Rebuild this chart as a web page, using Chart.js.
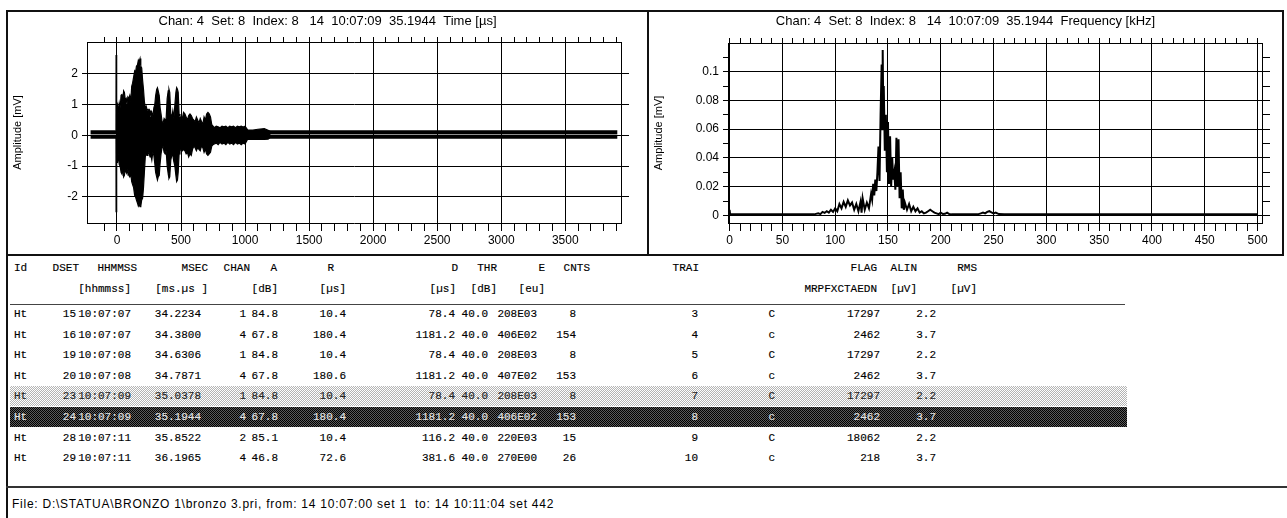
<!DOCTYPE html>
<html><head><meta charset="utf-8">
<script src="https://cdn.jsdelivr.net/npm/chart.js@4.4.1/dist/chart.umd.min.js"></script>
<style>
html,body{margin:0;padding:0;background:#fff;}
body{width:1287px;height:518px;position:relative;overflow:hidden;font-family:"Liberation Sans",Arial,sans-serif;}
canvas{position:absolute;display:block;}
.ln{position:absolute;background:#111;z-index:5;}
.cell{position:absolute;font-family:"Liberation Mono","DejaVu Sans Mono",monospace;font-size:11px;line-height:14px;white-space:pre;color:#000;z-index:3;-webkit-text-stroke:0.15px #000;}
.band{position:absolute;left:10px;width:1117px;height:20px;z-index:2;}
.hl1{background:repeating-conic-gradient(#b4b4b4 0 25%,#fff 0 50%) 0 0/2px 2px;}
.hl2{background:repeating-conic-gradient(#000 0 25%,#5a5a5a 0 50%) 0 0/2px 2px;}
#status{position:absolute;left:12px;top:497px;font-size:12px;line-height:15px;letter-spacing:0.75px;white-space:pre;color:#000;}
</style></head><body>
<canvas id="c1" width="641" height="243" style="left:7px;top:12px"></canvas>
<canvas id="c2" width="635" height="243" style="left:648px;top:12px"></canvas>
<div class="ln" style="left:6px;top:10px;width:1278px;height:2px"></div>
<div class="ln" style="left:6px;top:10px;width:2px;height:508px"></div>
<div class="ln" style="left:647px;top:10px;width:2px;height:246px"></div>
<div class="ln" style="left:1282px;top:10px;width:2px;height:246px"></div>
<div class="ln" style="left:6px;top:254px;width:1278px;height:2px"></div>
<div class="ln" style="left:6px;top:486px;width:1281px;height:2px;background:#333"></div>
<div class="ln" style="left:10px;top:304px;width:1115px;height:1px;background:#444"></div>
<div id="status"></div>
<script>
// ---------- Waveform (time domain) ----------
const waveT = [-8,-7,-4,-3,0,5,10,18,25,32,38,45,52,58,65,72,78,85,92,100,108,115,122,130,138,145,152,160,167,173,180,186,193,200,207,214,221,228,235,242,250,258,265,272,280,288,295,302,310,316,322,330,337,344,352,360,368,376,384,392,400,406,412,420,428,436,444,452,460,466,472,478,485,492,500,510,520,530,540,550,560,570,580,590,600,610,620,630,640,650,660,670,680,690,700,710,720,730,740,750,760,775,790,805,820,835,850,865,880,895,910,925,940,955,970,985,1000,1020,1060,1100,1150,1180,1200];
const waveUpper = [0.15,2.62,2.62,0.15,0.9,1.0,0.7,1.05,0.9,1.3,1.35,1.1,1.45,1.4,1.15,1.2,1.0,1.25,1.2,1.3,1.1,1.6,1.7,1.9,2.1,2.05,2.25,2.3,2.45,2.4,2.5,2.25,2.2,1.8,1.5,1.1,0.9,0.95,0.85,0.8,0.85,0.8,0.6,0.75,0.6,0.9,1.0,1.3,1.5,1.55,1.45,1.3,0.9,0.7,0.45,0.4,0.55,0.5,0.55,1.2,1.45,1.5,1.4,0.7,0.6,0.8,0.55,1.0,1.4,1.55,1.5,1.4,0.7,0.6,0.6,0.55,0.75,0.7,0.6,0.5,0.65,0.7,0.65,0.55,0.5,0.45,0.6,0.5,0.4,0.55,0.45,0.35,0.6,0.5,0.7,0.75,0.7,0.6,0.35,0.3,0.25,0.3,0.28,0.25,0.3,0.28,0.3,0.25,0.3,0.28,0.3,0.25,0.3,0.28,0.3,0.27,0.3,0.18,0.17,0.2,0.22,0.17,0.12];
const waveLower = [-0.05,-2.48,-2.48,-0.05,-0.8,-0.85,-0.6,-0.95,-1.0,-1.2,-1.25,-1.1,-1.35,-1.3,-1.1,-1.2,-1.25,-1.1,-1.3,-1.35,-1.25,-1.5,-1.6,-1.7,-1.95,-2.0,-2.1,-2.2,-2.3,-2.25,-2.32,-2.3,-2.1,-2.05,-1.7,-1.2,-0.7,-0.6,-0.65,-0.6,-0.55,-0.7,-0.65,-0.8,-0.55,-0.65,-0.9,-1.2,-1.35,-1.45,-1.35,-1.3,-0.9,-0.6,-0.4,-0.35,-0.55,-0.6,-0.5,-1.0,-1.25,-1.4,-1.35,-0.8,-0.65,-0.65,-0.85,-1.0,-1.3,-1.5,-1.45,-1.2,-0.6,-0.5,-0.45,-0.5,-0.45,-0.5,-0.6,-0.55,-0.7,-0.6,-0.65,-0.45,-0.35,-0.4,-0.5,-0.4,-0.45,-0.5,-0.35,-0.4,-0.55,-0.45,-0.6,-0.65,-0.6,-0.55,-0.35,-0.3,-0.28,-0.25,-0.3,-0.22,-0.28,-0.25,-0.3,-0.22,-0.28,-0.25,-0.3,-0.22,-0.28,-0.25,-0.3,-0.25,-0.28,-0.12,-0.13,-0.12,-0.13,-0.12,-0.05];
const noiseT = [-206, 3906];
const noiseHigh = [0.1, 0.1];
const noiseLow = [-0.04, -0.04];

// ---------- Spectrum (frequency domain) ----------
const freqKHz = [0,0.5,1,80,84,86,88,90,92,94,96,98,100,102,104,106,108,110,112,114,116,118,120,122,124,125,126,128,130,132,134,135,136,137,138,139,140,141,142,143,144,144.5,145,145.5,146,147,148,149,150,151,152,153,154,155,156,157,158,159,160,161,162,163,164,165,166,168,170,172,174,176,178,180,182,184,186,188,190,192,194,196,198,200,202,204,206,208,210,235,238,240,242,244,246,248,250,252,255,260,500];
const specAmp = [0.004,0.0008,0.0008,0.0008,0.0015,0.001,0.0025,0.0018,0.003,0.002,0.004,0.0025,0.005,0.003,0.008,0.005,0.0095,0.006,0.0105,0.007,0.009,0.004,0.008,0.003,0.0095,0.002,0.012,0.004,0.009,0.005,0.015,0.011,0.022,0.014,0.025,0.017,0.03,0.048,0.024,0.07,0.105,0.06,0.115,0.075,0.09,0.045,0.07,0.03,0.065,0.022,0.055,0.02,0.04,0.025,0.03,0.018,0.054,0.02,0.053,0.012,0.03,0.005,0.018,0.004,0.009,0.004,0.008,0.003,0.006,0.003,0.005,0.002,0.003,0.0015,0.002,0.003,0.004,0.003,0.002,0.0015,0.001,0.002,0.001,0.0012,0.002,0.001,0.0008,0.0008,0.0015,0.002,0.0015,0.0025,0.003,0.0022,0.0015,0.002,0.001,0.0008,0.0008];

// ---------- Hit table ----------
const headerLabels = ['Id','DSET','HHMMSS','MSEC','CHAN','A','R','D','THR','E','CNTS','TRAI','FLAG','ALIN','RMS'];
const unitLabels = ['','','[hhmmss]','[ms.\u00b5s ]','','[dB]','[\u00b5s]','[\u00b5s]','[dB]','[eu]','','','MRPFXCTAEDN','[\u00b5V]','[\u00b5V]'];
const hitId = ['Ht','Ht','Ht','Ht','Ht','Ht','Ht','Ht'];
const dset = ['15','16','19','20','23','24','28','29'];
const hhmmss = ['10:07:07','10:07:07','10:07:08','10:07:08','10:07:09','10:07:09','10:07:11','10:07:11'];
const msec = ['34.2234','34.3800','34.6306','34.7871','35.0378','35.1944','35.8522','36.1965'];
const chan = ['1','4','1','4','1','4','2','4'];
const ampA = ['84.8','67.8','84.8','67.8','84.8','67.8','85.1','46.8'];
const riseR = ['10.4','180.4','10.4','180.6','10.4','180.4','10.4','72.6'];
const durD = ['78.4','1181.2','78.4','1181.2','78.4','1181.2','116.2','381.6'];
const thr = ['40.0','40.0','40.0','40.0','40.0','40.0','40.0','40.0'];
const energyE = ['208E03','406E02','208E03','407E02','208E03','406E02','220E03','270E00'];
const counts = ['8','154','8','153','8','153','15','26'];
const trai = ['3','4','5','6','7','8','9','10'];
const flag = ['C','c','C','c','C','c','C','c'];
const alin = ['17297','2462','17297','2462','17297','2462','18062','218'];
const rms = ['2.2','3.7','2.2','3.7','2.2','3.7','2.2','3.7'];
const statusText = 'File: D:\\STATUA\\BRONZO 1\\bronzo 3.pri, from: 14 10:07:00 set 1  to: 14 10:11:04 set 442';
const title1 = 'Chan: 4  Set: 8  Index: 8   14  10:07:09  35.1944  Time [\u00b5s]';
const title2 = 'Chan: 4  Set: 8  Index: 8   14  10:07:09  35.1944  Frequency [kHz]';

// ---------- layout (positions only) ----------
const hdrX  = [14,79,137,208,250,277,334,458,497,545,590,699,877,917,977];
const unitX = [0,0,131,208,0,278,346,456,497,545,0,0,877,917,977];
const dataX = [14,76,131,201,246,278,346,455,488,537,576,698,775,880,936];
const hdrY = 268, unitY = 289, rowY0 = 314, rowPitch = 20.6;

function cell(text, x, y, left, color) {
  const s = document.createElement('span');
  s.className = 'cell';
  s.textContent = text;
  s.style.top = (y - 7) + 'px';
  if (left) s.style.left = x + 'px'; else s.style.right = (1287 - x) + 'px';
  if (color) { s.style.color = color; s.style.webkitTextStroke = '0.15px ' + color; }
  document.body.appendChild(s);
}
headerLabels.forEach((t,i)=>cell(t, hdrX[i], hdrY, i===0));
unitLabels.forEach((t,i)=>{ if (t) cell(t, unitX[i], unitY, false); });
for (let r = 0; r < hitId.length; r++) {
  const y = rowY0 + r*rowPitch;
  let color = null;
  if (r === 4 || r === 5) {
    const b = document.createElement('div');
    b.className = 'band ' + (r === 4 ? 'hl1' : 'hl2');
    b.style.top = Math.round(y - 10) + 'px';
    document.body.appendChild(b);
    color = (r === 5) ? '#e4e4e4' : '#222';
  }
  const vals = [hitId[r],dset[r],hhmmss[r],msec[r],chan[r],ampA[r],riseR[r],durD[r],thr[r],energyE[r],counts[r],trai[r],flag[r],alin[r],rms[r]];
  vals.forEach((t,i)=>cell(t, dataX[i], y, i===0, color));
}
document.getElementById('status').textContent = statusText;

// ---------- charts ----------
const F = {family:'"Liberation Sans", Arial, sans-serif', size:12};
const FY = {family:'"Liberation Sans", Arial, sans-serif', size:11};
const FT = {family:'"Liberation Sans", Arial, sans-serif', size:13, weight:'normal'};
const BLACK = '#000', NONE = 'rgba(0,0,0,0)';
const pts = (xs, ys) => xs.map((x,i)=>({x, y:ys[i]}));
const lineDs = (d, w, extra) => Object.assign({data:d, borderColor:BLACK, borderWidth:w, pointRadius:0, tension:0, fill:false}, extra||{});

new Chart(document.getElementById('c1'), {
  type:'line',
  data:{datasets:[
    lineDs(pts(noiseT, noiseHigh), 4),
    lineDs(pts(noiseT, noiseLow), 4),
    lineDs(pts(waveT, waveUpper), 1.2),
    lineDs(pts(waveT, waveLower), 1.2, {fill:'-1', backgroundColor:BLACK})
  ]},
  options:{
    responsive:false, animation:false, layout:{padding:0},
    plugins:{legend:{display:false}, tooltip:{enabled:false},
      title:{display:true, text:title1, color:BLACK, font:FT, padding:{top:2,bottom:3}}},
    scales:{
      x:{type:'linear', position:'bottom', min:-234, max:3935,
        ticks:{stepSize:100, autoSkip:false, maxRotation:0, includeBounds:false, color:BLACK, font:F, padding:2,
          callback:v => (v % 500 === 0 ? String(v) : '')},
        grid:{color:c => (c.tick && c.tick.value % 500 === 0 ? BLACK : NONE), tickColor:c => (c.tick && c.tick.value > -150 ? BLACK : NONE), tickLength:8, lineWidth:1},
        border:{color:BLACK, width:1},
        afterFit:s => { s.height = 32; }},
      x2:{type:'linear', position:'top', min:-234, max:3935,
        ticks:{display:false, stepSize:100, autoSkip:false, includeBounds:false},
        grid:{drawOnChartArea:false, tickLength:5, color:c => (c.tick && c.tick.value > -150 ? BLACK : NONE)},
        border:{color:BLACK, width:1},
        afterFit:s => { s.height = 9.4; }},
      y:{type:'linear', position:'left', min:-2.85, max:3.04,
        ticks:{stepSize:1, autoSkip:false, includeBounds:false, color:BLACK, font:F, padding:4,
          callback:v => (Math.abs(v) <= 2 ? String(v) : '')},
        grid:{color:c => (c.tick && Math.abs(c.tick.value) <= 2 ? BLACK : NONE), tickLength:5},
        border:{color:BLACK, width:1},
        title:{display:true, text:'Amplitude [mV]', color:BLACK, font:FY, padding:{top:4,bottom:0}},
        afterFit:s => { s.width = 80; }},
      y2:{type:'linear', position:'right', min:-2.85, max:3.04,
        ticks:{display:false, stepSize:1, includeBounds:false},
        grid:{drawOnChartArea:false, tickLength:8, color:c => (c.tick && Math.abs(c.tick.value) <= 2 ? BLACK : NONE)},
        border:{color:BLACK, width:1},
        afterFit:s => { s.width = 27; }}
    }
  }
});

const fmtAmp = v => { const k = Math.round(v*100); if (k % 2 !== 0) return ''; return k === 0 ? '0' : String(+(k/100).toFixed(2)); };
new Chart(document.getElementById('c2'), {
  type:'line',
  data:{datasets:[ lineDs(pts(freqKHz, specAmp), 2) ]},
  options:{
    responsive:false, animation:false, layout:{padding:0},
    plugins:{legend:{display:false}, tooltip:{enabled:false},
      title:{display:true, text:title2, color:BLACK, font:FT, padding:{top:2,bottom:3}}},
    scales:{
      x:{type:'linear', position:'bottom', min:-1.5, max:504.2,
        ticks:{stepSize:10, autoSkip:false, maxRotation:0, includeBounds:false, color:BLACK, font:F, padding:2,
          callback:v => (Math.round(v) % 50 === 0 ? String(Math.round(v)) : '')},
        grid:{color:c => (c.tick && Math.round(c.tick.value) % 50 === 0 ? BLACK : NONE), tickColor:BLACK, tickLength:8, lineWidth:1},
        border:{color:BLACK, width:1},
        afterFit:s => { s.height = 32; }},
      x2:{type:'linear', position:'top', min:-1.5, max:504.2,
        ticks:{display:false, stepSize:10, autoSkip:false, includeBounds:false},
        grid:{drawOnChartArea:false, tickLength:5, color:BLACK},
        border:{color:BLACK, width:1},
        afterFit:s => { s.height = 10.4; }},
      y:{type:'linear', position:'left', min:-0.0052, max:0.1199,
        ticks:{stepSize:0.01, autoSkip:false, includeBounds:false, color:BLACK, font:F, padding:4, callback:fmtAmp},
        grid:{color:c => (c.tick && Math.round(c.tick.value*100) % 2 === 0 ? BLACK : NONE), tickColor:BLACK, tickLength:5},
        border:{color:BLACK, width:1},
        title:{display:true, text:'Amplitude [mV]', color:BLACK, font:FY, padding:{top:4,bottom:0}},
        afterFit:s => { s.width = 80; }},
      y2:{type:'linear', position:'right', min:-0.0052, max:0.1199,
        ticks:{display:false, stepSize:0.01, includeBounds:false},
        grid:{drawOnChartArea:false, tickLength:8, color:BLACK},
        border:{color:BLACK, width:1},
        afterFit:s => { s.width = 21; }}
    }
  }
});
</script>
</body></html>
